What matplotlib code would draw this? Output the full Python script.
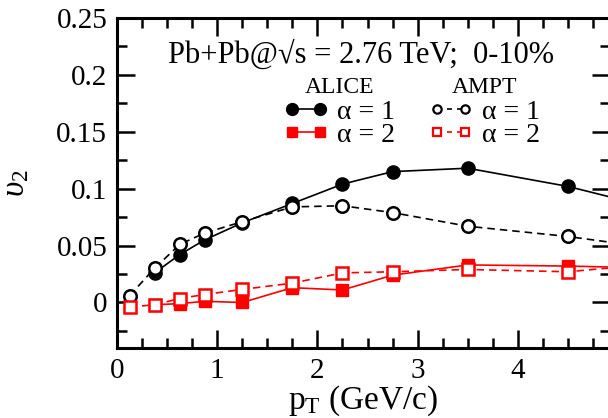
import numpy as np
import matplotlib
matplotlib.use("Agg")
import matplotlib.pyplot as plt
from matplotlib.lines import Line2D
from matplotlib.ticker import MultipleLocator

plt.rcParams['font.family'] = ['Liberation Serif', 'DejaVu Serif']
plt.rcParams['mathtext.fontset'] = 'custom'
plt.rcParams['mathtext.rm'] = 'Liberation Serif'
plt.rcParams['mathtext.it'] = 'Liberation Serif:italic'

# ALICE data (filled symbols, solid lines)
pt_alice1 = [0.375, 0.625, 0.875, 1.25, 1.75, 2.25, 2.75, 3.5, 4.5, 5.5]
v2_alice1 = [0.026, 0.042, 0.055, 0.070, 0.087, 0.104, 0.115, 0.118, 0.102, 0.080]
pt_alice2 = [0.375, 0.625, 0.875, 1.25, 1.75, 2.25, 2.75, 3.5, 4.5, 5.5]
v2_alice2 = [-0.002, -0.001, 0.001, 0.000, 0.013, 0.011, 0.024, 0.033, 0.032, 0.030]

# AMPT model (open symbols, dashed lines)
pt_ampt = [0.125, 0.375, 0.625, 0.875, 1.25, 1.75, 2.25, 2.75, 3.5, 4.5, 5.5]
v2_ampt1 = [0.006, 0.030, 0.051, 0.061, 0.071, 0.084, 0.085, 0.079, 0.067, 0.058, 0.046]
v2_ampt2 = [-0.004, -0.002, 0.0035, 0.007, 0.0115, 0.017, 0.026, 0.027, 0.029, 0.027, 0.035]

fig = plt.figure(figsize=(6.08, 4.18), dpi=100)
ax = fig.add_axes([117 / 608, 1 - 348 / 418, 493 / 608, 330 / 418])

ms = 9.5
ax.plot(pt_alice1, v2_alice1, '-', color='black', lw=1.2, marker='o', ms=ms, zorder=3)
ax.plot(pt_alice2, v2_alice2, '-', color='red', lw=1.2, marker='s', ms=ms - 0.5, zorder=3)
ax.plot(pt_ampt, v2_ampt1, '--', color='black', lw=1.2, dashes=(4.5, 3), marker='o', ms=ms - 0.5,
        mfc='white', mec='black', mew=1.8, zorder=4)
ax.plot(pt_ampt, v2_ampt2, '--', color='red', lw=1.2, dashes=(4.5, 3), marker='s', ms=ms - 1.5,
        mfc='white', mec='red', mew=1.8, zorder=4)

ax.set_xlim(0, 4.92)
ax.set_ylim(-0.04, 0.25)
ax.xaxis.set_minor_locator(MultipleLocator(0.25))
ax.yaxis.set_minor_locator(MultipleLocator(0.025))
ax.set_xticks([0, 1, 2, 3, 4])
ax.set_xticklabels(['0', '1', '2', '3', '4'])
ax.set_yticks([0, 0.05, 0.1, 0.15, 0.2, 0.25])
ax.set_yticklabels(['0', '0.05', '0.1', '0.15', '0.2', '0.25'])
ax.tick_params(which='both', direction='in', top=True, right=True, labelsize=21, width=1.8)
ax.tick_params(which='major', length=13, pad=7)
ax.tick_params(which='minor', length=7)
for s in ax.spines.values():
    s.set_linewidth(2.2)

ax.set_xlabel(r'p$_\mathrm{T}$ (GeV/c)', fontsize=24, labelpad=0)
ax.set_ylabel(r'$\upsilon_2$', fontsize=24, labelpad=18)

ax.text(0.51, 0.211, 'Pb+Pb@√s = 2.76 TeV;  0-10%', fontsize=22, ha='left', va='baseline')

h_a1 = Line2D([], [], color='black', lw=1.2, marker='o', ms=8.5)
h_a2 = Line2D([], [], color='red', lw=1.2, marker='s', ms=7.5)
h_m1 = Line2D([], [], color='black', lw=1.2, ls=(0, (3, 3)), marker='o', ms=6, mfc='white', mew=1.6)
h_m2 = Line2D([], [], color='red', lw=1.2, ls=(0, (3, 3)), marker='s', ms=6, mfc='white', mew=1.6)

leg_kw = dict(frameon=False, numpoints=2, fontsize=20, title_fontsize=17, handlelength=1.6,
              handletextpad=0.32, labelspacing=-0.1, borderpad=0, borderaxespad=0, loc='upper left')
leg1 = ax.legend([h_a1, h_a2], ['α = 1', 'α = 2'], title='ALICE',
                 bbox_to_anchor=(284 / 608, 1 - 77 / 418), bbox_transform=fig.transFigure, **leg_kw)
leg1._legend_box.sep = 1
ax.add_artist(leg1)
leg2 = ax.legend([h_m1, h_m2], ['α = 1', 'α = 2'], title='AMPT',
                 bbox_to_anchor=(429 / 608, 1 - 77 / 418), bbox_transform=fig.transFigure, **leg_kw)
leg2._legend_box.sep = 1

fig.savefig('out.png', dpi=100)
